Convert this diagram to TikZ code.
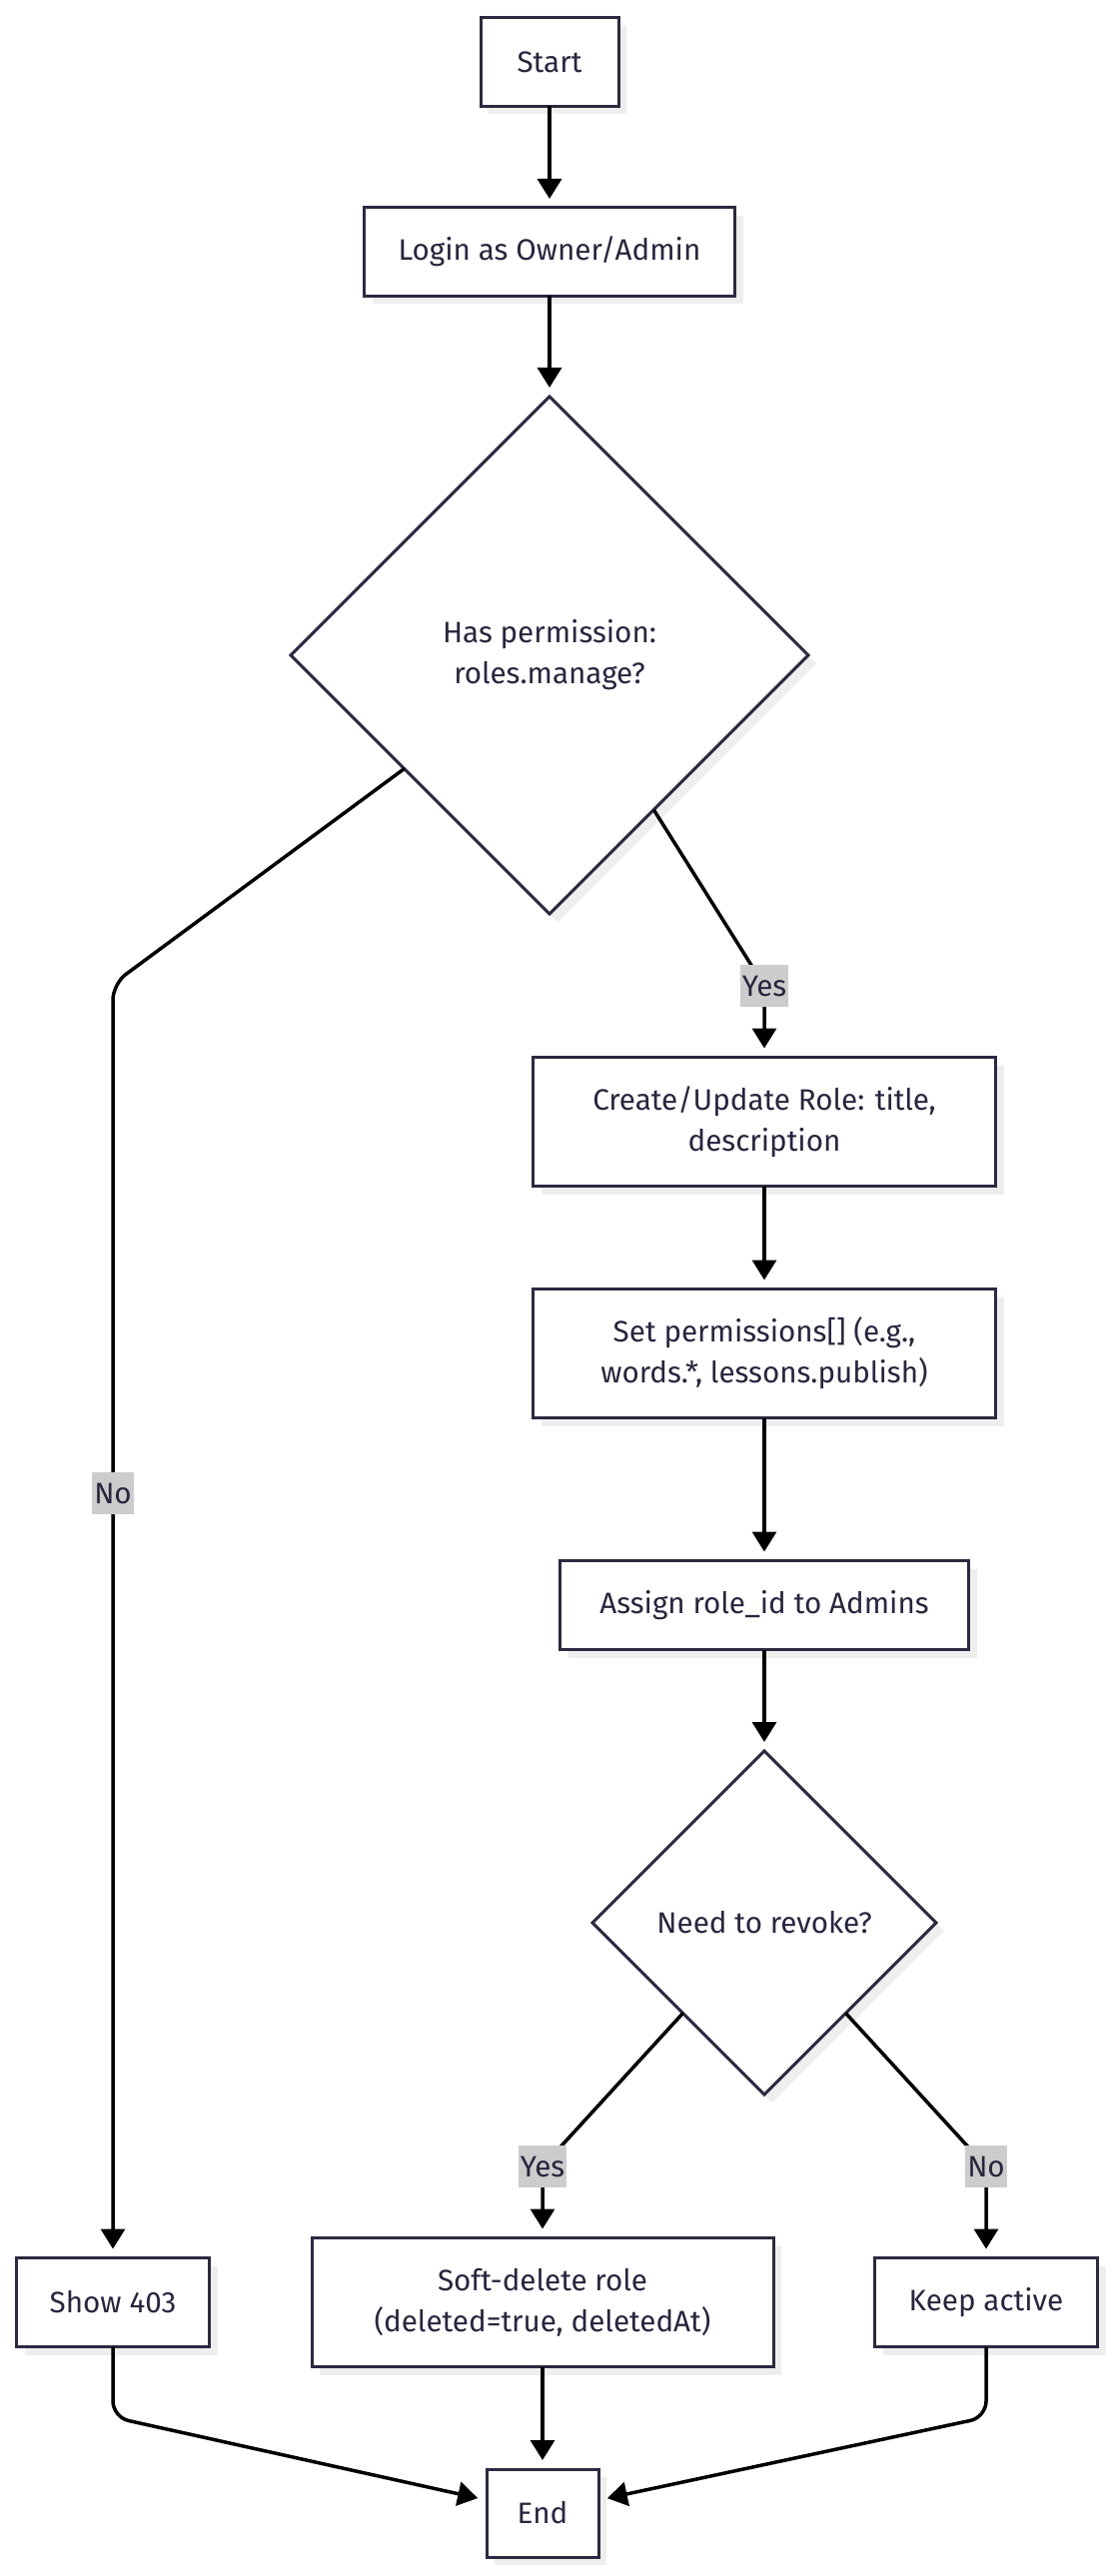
\documentclass[tikz,border=0pt]{standalone}
\usepackage{fontspec}
\setmainfont{Fira Sans}
\usetikzlibrary{arrows.meta,shapes.geometric,shadows,calc}

\definecolor{nodeline}{RGB}{42,42,64}
\definecolor{nodetext}{RGB}{38,38,62}
\definecolor{labelgray}{RGB}{204,204,204}
\definecolor{shadowgray}{RGB}{238,238,238}

\newcommand\nodefont{\fontsize{14.8}{20.5}\selectfont}

\tikzset{
	box/.style={draw=nodeline, line width=1.5pt, fill=white, text=nodetext, align=center, inner sep=0pt, outer sep=0pt, font=\nodefont, drop shadow={shadow xshift=4pt, shadow yshift=-4pt, fill=shadowgray, opacity=1}},
	decision/.style={box, diamond, aspect=1},
	flow/.style={line width=1.75pt, -{Triangle[width=12pt,length=10pt]}, shorten >=4.5pt, rounded corners=8pt},
	flowlabel/.style={sharp corners, fill=labelgray, text=nodetext, font=\nodefont, inner xsep=1pt, inner ysep=0pt, minimum height=21pt}
}

\begin{document}
\begin{tikzpicture}[x=0.5pt, y=-0.5pt]
			%%%%% START %%%%%
			\useasboundingbox (0, 0) rectangle (1116, 2579);
			
			\node[box, minimum width=69pt, minimum height=44.5pt] (start) at (550, 62) {Start};
			\node[box, minimum width=185.5pt, minimum height=44pt] (login) at (550, 252) {Login as Owner/Admin};
			\node[decision, minimum width=259pt, minimum height=259pt] (perm) at (550, 656) {Has permission:\\ roles.manage?};
			
			\node[box, minimum width=231.5pt, minimum height=64.5pt] (create) at (765, 1123) {Create/Update Role: title,\\ description};
			\node[box, minimum width=231.5pt, minimum height=64.5pt] (setperm) at (765, 1355) {Set permissions[] (e.g.,\\ words.*, lessons.publish)};
			\node[box, minimum width=204.5pt, minimum height=44.5pt] (assign) at (765, 1607) {Assign role\_id to Admins};
			\node[decision, minimum width=172pt, minimum height=172pt] (revoke) at (765, 1925) {Need to revoke?};
			
			\node[box, minimum width=96.5pt, minimum height=44.5pt] (show) at (113, 2305) {Show 403};
			\node[box, minimum width=231pt, minimum height=64.5pt] (softdel) at (543, 2305) {Soft-delete role\\ (deleted=true, deletedAt)};
			\node[box, minimum width=111.5pt, minimum height=44.5pt] (keep) at (987, 2305) {Keep active};
			\node[box, minimum width=56pt, minimum height=44pt] (stop) at (543, 2516) {End};
			
			\draw[flow] (start) -- (login);
			\draw[flow] (login) -- (perm);
			
			\draw[flow] (perm.218) -- (113, 985) -- node[flowlabel, pos=0.4] {No} (show.north);
			\draw[flow] (perm.-56) -- (765, 987) node[flowlabel] {Yes} -- (create.north);
			
			\draw[flow] (create) -- (setperm);
			\draw[flow] (setperm) -- (assign);
			\draw[flow] (assign) -- (revoke);
			
			\draw[flow] (revoke.228) -- (543, 2169) node[flowlabel] {Yes} -- (softdel.north);
			\draw[flow] (revoke.-48) -- (987, 2169) node[flowlabel] {No} -- (keep.north);
			
			\draw[flow] (show.south) -- (113, 2420) -- ($(stop.west)+(0, -13)$);
			\draw[flow] (softdel) -- (stop);
			\draw[flow] (keep.south) -- (987, 2420) -- ($(stop.east)+(0, -13)$);
			
			%%%%% END %%%%%
\end{tikzpicture}
\end{document}
